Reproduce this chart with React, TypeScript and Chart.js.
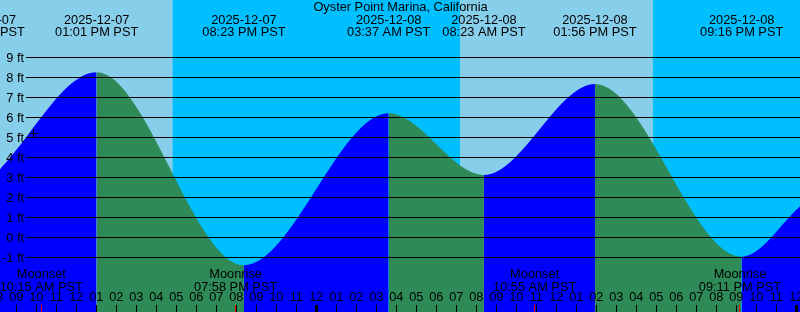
import React, { useEffect, useRef } from "react";
import { Chart, registerables } from "chart.js";

Chart.register(...registerables);

// Time is in hours since 2025-12-07 00:00 PST
const TITLE = "Oyster Point Marina, California";
const X_MIN = 8.185;
const X_MAX = 48.185;
const Y_MIN = -3.735;
const Y_MAX = 11.865;

// Tide curve (extremes and edges), feet
const tideHours = [8.15, 13.017, 20.383, 27.617, 32.383, 37.933, 45.267, 48.2];
const tideFeet = [3.37, 8.25, -1.4, 6.2, 3.12, 7.67, -0.97, 1.55];

// Tide event labels at top
const eventHours = [7.35, 13.017, 20.383, 27.617, 32.383, 37.933, 45.267];
const eventDates = ["2025-12-07", "2025-12-07", "2025-12-07", "2025-12-08", "2025-12-08", "2025-12-08", "2025-12-08"];
const eventTimes = ["07:21 AM PST", "01:01 PM PST", "08:23 PM PST", "03:37 AM PST", "08:23 AM PST", "01:56 PM PST", "09:16 PM PST"];

// Moon events at bottom
const moonHours = [10.25, 19.967, 34.917, 45.183];
const moonNames = ["Moonset", "Moonrise", "Moonset", "Moonrise"];
const moonTimes = ["10:15 AM PST", "07:58 PM PST", "10:55 AM PST", "09:11 PM PST"];

// Daylight intervals
const dayStart = [8.0, 31.185];
const dayEnd = [16.82, 40.835];

// Current-time marker
const markerHours = [9.85];
const markerFeet = [5.17];

// Y gridlines (feet)
const gridFeet = [-1, 0, 1, 2, 3, 4, 5, 6, 7, 8, 9];

const DAY = "#87CEEB";
const NIGHT = "#00BFFF";
const RISING = "#0000FF";
const FALLING = "#2E8B57";
const FONT = "12.8px 'Liberation Sans', Arial, sans-serif";

const hourLabel = (h: number) => {
  const v = ((h % 12) + 12) % 12 || 12;
  return v < 10 ? "0" + v : String(v);
};

const tidePlugin = {
  id: "tidePlugin",
  beforeDatasetsDraw(chart: any) {
    const { ctx, scales } = chart;
    const xs = scales.x;
    const W = chart.width;
    const H = chart.height;
    ctx.save();
    ctx.fillStyle = NIGHT;
    ctx.fillRect(0, 0, W, H);
    ctx.fillStyle = DAY;
    for (let i = 0; i < dayStart.length; i++) {
      const a = xs.getPixelForValue(dayStart[i]);
      const b = xs.getPixelForValue(dayEnd[i]);
      ctx.fillRect(a, 0, b - a, H);
    }
    ctx.restore();
  },
  afterDatasetsDraw(chart: any) {
    const { ctx, scales } = chart;
    const xs = scales.x;
    const ys = scales.y;
    const W = chart.width;
    const H = chart.height;
    ctx.save();
    ctx.font = FONT;
    ctx.fillStyle = "#000";
    ctx.strokeStyle = "#000";
    ctx.lineWidth = 1;

    // grid lines + labels
    for (const f of gridFeet) {
      const y = Math.floor(ys.getPixelForValue(f)) + 0.5;
      ctx.beginPath();
      ctx.moveTo(26, y);
      ctx.lineTo(W, y);
      ctx.stroke();
      ctx.textAlign = "right";
      ctx.textBaseline = "alphabetic";
      ctx.fillText(f + " ft", 24, y + 4.5);
    }

    // current-time marker (cross)
    for (let i = 0; i < markerHours.length; i++) {
      const mx = Math.floor(xs.getPixelForValue(markerHours[i])) + 0.5;
      const my = Math.floor(ys.getPixelForValue(markerFeet[i])) + 0.5;
      ctx.beginPath();
      ctx.moveTo(mx - 4.5, my);
      ctx.lineTo(mx + 4.5, my);
      ctx.moveTo(mx, my - 4.5);
      ctx.lineTo(mx, my + 4.5);
      ctx.stroke();
    }

    // title
    ctx.textAlign = "center";
    ctx.fillText(TITLE, 400.5, 11);

    // tide event labels
    for (let i = 0; i < eventHours.length; i++) {
      const x = xs.getPixelForValue(eventHours[i]);
      ctx.fillText(eventDates[i], x, 24);
      ctx.fillText(eventTimes[i], x, 36);
    }

    // moon labels
    for (let i = 0; i < moonHours.length; i++) {
      const x = xs.getPixelForValue(moonHours[i]);
      ctx.fillText(moonNames[i], x, 278);
      ctx.fillText(moonTimes[i], x, 291);
    }

    // hour labels and ticks
    for (let h = Math.ceil(X_MIN - 1); h <= Math.floor(X_MAX + 1); h++) {
      const x = xs.getPixelForValue(h);
      ctx.fillStyle = "#000";
      ctx.fillText(hourLabel(h), x, 301);
      const px = Math.floor(x);
      if (h % 24 === 0) {
        ctx.fillRect(px - 1, 305, 3, H - 305);
      } else {
        ctx.fillRect(px, 305, 1, H - 305);
      }
    }
    // moon event ticks (red)
    ctx.fillStyle = "#FF0000";
    for (let i = 0; i < moonHours.length; i++) {
      const x = Math.floor(xs.getPixelForValue(moonHours[i]));
      ctx.fillRect(x, 305, 1, H - 305);
    }
    ctx.restore();
  },
};

export default function App() {
  const ref = useRef<HTMLCanvasElement | null>(null);
  useEffect(() => {
    if (!ref.current) return;
    const tideData = tideHours.map((h, i) => ({ x: h, y: tideFeet[i] }));
    const chart = new Chart(ref.current, {
      type: "line",
      data: {
        datasets: [
          {
            data: tideData,
            fill: "start",
            cubicInterpolationMode: "monotone",
            borderWidth: 0,
            borderColor: "rgba(0,0,0,0)",
            backgroundColor: RISING,
            pointRadius: 0,
            segment: {
              backgroundColor: (c: any) => (c.p1.parsed.y >= c.p0.parsed.y ? RISING : FALLING),
            },
          } as any,
        ],
      },
      options: {
        responsive: false,
        maintainAspectRatio: false,
        animation: false,
        layout: { padding: 0, autoPadding: false },
        events: [],
        scales: {
          x: { type: "linear", min: X_MIN, max: X_MAX, display: false },
          y: { type: "linear", min: Y_MIN, max: Y_MAX, display: false },
        },
        plugins: { legend: { display: false }, tooltip: { enabled: false } },
      },
      plugins: [tidePlugin],
    });
    return () => chart.destroy();
  }, []);
  return (
    <div style={{ position: "fixed", left: 0, top: 0, width: 800, height: 312, overflow: "hidden" }}>
      <canvas ref={ref} width={800} height={312} style={{ display: "block", width: 800, height: 312 }} />
    </div>
  );
}
